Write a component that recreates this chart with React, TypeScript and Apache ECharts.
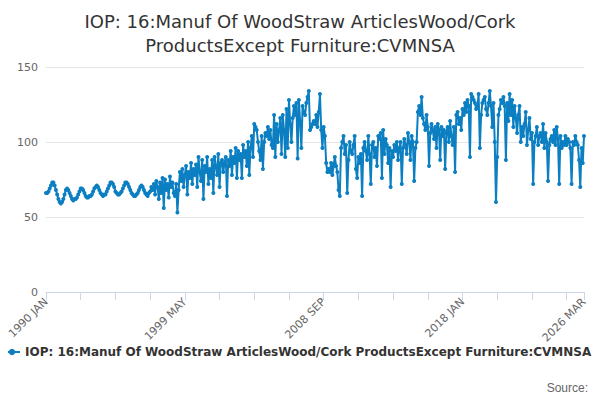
import React, { useEffect, useRef } from 'react';
import * as echarts from 'echarts';

const title = 'IOP: 16:Manuf Of WoodStraw ArticlesWood/Cork\nProductsExcept Furniture:CVMNSA';
const seriesName = 'IOP: 16:Manuf Of WoodStraw ArticlesWood/Cork ProductsExcept Furniture:CVMNSA';
const months = ['JAN', 'FEB', 'MAR', 'APR', 'MAY', 'JUN', 'JUL', 'AUG', 'SEP', 'OCT', 'NOV', 'DEC'];

// monthly values per year, 1990 .. 2026
const yearly: number[][] = [
  [66, 66, 67, 69, 71, 73, 73, 71, 68, 65, 62, 60],
  [59, 60, 62, 65, 68, 69, 68, 66, 64, 62, 61, 62],
  [62, 63, 65, 67, 69, 69, 68, 66, 64, 63, 63, 64],
  [64, 65, 67, 69, 70, 71, 70, 68, 66, 65, 64, 65],
  [65, 67, 69, 71, 73, 73, 72, 70, 67, 66, 65, 65],
  [66, 67, 69, 71, 73, 73, 72, 70, 68, 66, 65, 64],
  [64, 65, 66, 68, 70, 71, 70, 68, 66, 65, 64, 66],
  [67, 70, 68, 72, 65, 74, 70, 62, 73, 66, 76, 56],
  [75, 68, 72, 63, 77, 70, 73, 66, 64, 72, 53, 68],
  [80, 74, 82, 70, 78, 84, 65, 80, 76, 86, 72, 82],
  [78, 85, 70, 90, 80, 74, 88, 62, 84, 80, 90, 72],
  [82, 76, 88, 66, 90, 84, 78, 92, 70, 86, 88, 80],
  [86, 90, 64, 88, 84, 94, 78, 90, 86, 96, 76, 94],
  [88, 92, 76, 98, 90, 94, 84, 100, 78, 96, 104, 90],
  [112, 110, 108, 100, 94, 88, 104, 82, 100, 106, 104, 110],
  [102, 108, 98, 96, 118, 90, 112, 100, 108, 116, 92, 118],
  [108, 90, 122, 96, 128, 112, 100, 116, 124, 118, 126, 89],
  [128, 114, 96, 124, 120, 118, 126, 130, 134, 108, 110, 112],
  [114, 112, 118, 110, 120, 132, 108, 96, 110, 104, 86, 80],
  [82, 80, 86, 78, 84, 90, 84, 80, 68, 64, 96, 100],
  [104, 92, 98, 66, 88, 100, 94, 92, 98, 104, 82, 76],
  [90, 86, 92, 64, 96, 100, 94, 88, 104, 92, 72, 98],
  [100, 90, 96, 84, 104, 102, 106, 76, 108, 92, 102, 98],
  [86, 96, 70, 94, 90, 98, 94, 100, 88, 96, 100, 72],
  [96, 102, 98, 92, 106, 100, 88, 104, 100, 74, 96, 100],
  [120, 124, 118, 130, 116, 112, 108, 118, 110, 84, 106, 112],
  [108, 102, 110, 96, 112, 108, 88, 110, 104, 108, 82, 106],
  [110, 100, 114, 104, 98, 110, 80, 118, 120, 112, 116, 108],
  [122, 118, 126, 120, 128, 124, 90, 132, 130, 128, 126, 122],
  [124, 132, 96, 118, 126, 128, 130, 122, 118, 126, 134, 124],
  [110, 126, 100, 60, 90, 118, 122, 128, 126, 130, 124, 88],
  [126, 114, 132, 118, 128, 110, 124, 116, 106, 118, 124, 100],
  [110, 104, 112, 120, 98, 108, 116, 102, 106, 72, 100, 104],
  [110, 98, 104, 106, 100, 112, 96, 106, 100, 74, 98, 102],
  [104, 100, 108, 98, 110, 102, 72, 104, 96, 100, 98, 104],
  [98, 102, 100, 96, 72, 100, 98, 104, 100, 98, 88, 70],
  [96, 86, 104],
];

const categories: string[] = [];
const values: number[] = [];
yearly.forEach((row, y) => {
  row.forEach((v, m) => {
    categories.push(`${1990 + y} ${months[m]}`);
    values.push(v);
  });
});
const labelIdx = [0, 112, 224, 336, categories.length - 1];

const App: React.FC = () => {
  const ref = useRef<HTMLDivElement>(null);

  useEffect(() => {
    if (!ref.current) return;
    const chart = echarts.init(ref.current, undefined, { renderer: 'svg' });
    chart.setOption({
      animation: false,
      textStyle: { fontFamily: 'DejaVu Sans' },
      title: {
        text: title,
        left: 'center',
        top: 4,
        textStyle: { fontSize: 18, fontWeight: 'normal', color: '#333', lineHeight: 24 },
      },
      grid: { left: 46, right: 16, top: 67, bottom: 108 },
      xAxis: {
        type: 'category',
        data: categories,
        boundaryGap: false,
        axisLine: { lineStyle: { color: '#ccd6eb' } },
        axisTick: { interval: (i: number) => i % 28 === 0 || i === categories.length - 1, lineStyle: { color: '#ccd6eb' }, length: 8 },
        axisLabel: {
          interval: (i: number) => labelIdx.includes(i),
          rotate: 45,
          color: '#666',
          fontSize: 11,
          showMaxLabel: true,
        },
      },
      yAxis: {
        type: 'value',
        min: 0,
        max: 150,
        interval: 50,
        axisLabel: { color: '#666', fontSize: 11 },
        splitLine: { lineStyle: { color: '#e6e6e6' } },
      },
      legend: {
        left: -2,
        top: 341,
        itemWidth: 16,
        itemHeight: 8,
        textStyle: { fontSize: 12, fontWeight: 'bold', color: '#333' },
        data: [seriesName],
      },
      graphic: [
        { type: 'text', right: 12, top: 382, style: { text: 'Source:', fontSize: 12, fill: '#666' } },
      ],
      series: [
        {
          name: seriesName,
          type: 'line',
          data: values,
          symbol: 'circle',
          symbolSize: 4,
          showAllSymbol: true,
          lineStyle: { width: 2, color: '#0b7fc1' },
          itemStyle: { color: '#0b7fc1' },
        },
      ],
    });
    return () => chart.dispose();
  }, []);

  return <div ref={ref} style={{ width: 600, height: 400, margin: -8 }} />;
};

export default App;
